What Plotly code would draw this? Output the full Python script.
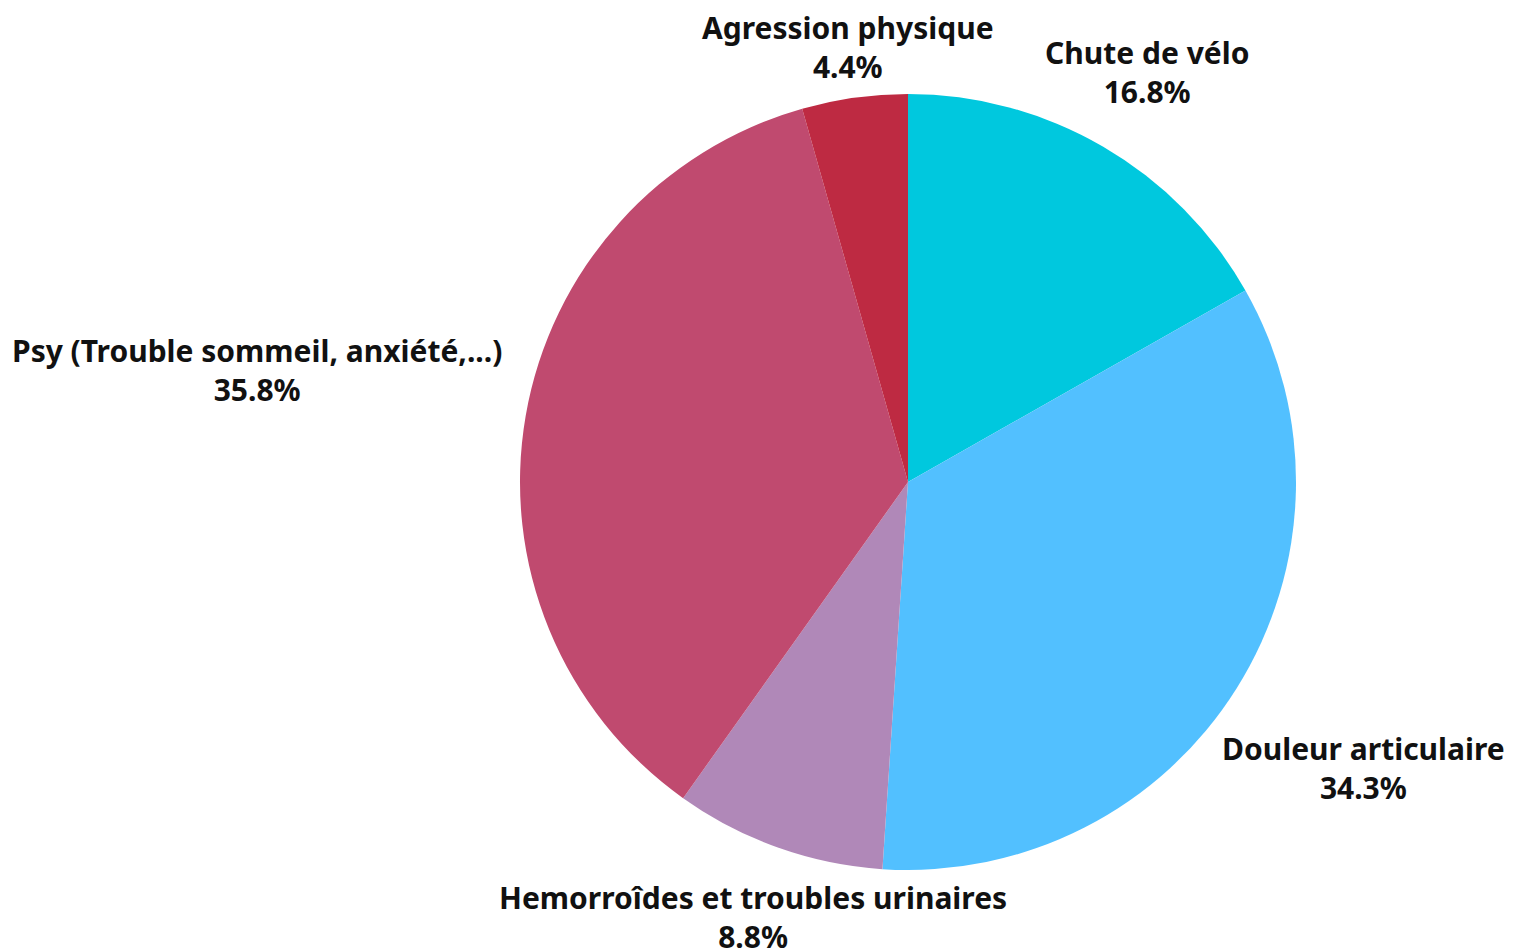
import math
import plotly.graph_objects as go

labels = ["Chute de vélo", "Douleur articulaire", "Hemorroîdes et troubles urinaires",
          "Psy (Trouble sommeil, anxiété,...)", "Agression physique"]
values = [16.8, 34.3, 8.8, 35.8, 4.4]
colors = ["#00C8DE", "#52C0FF", "#B088B8", "#C04A6F", "#BE2A42"]

W, H = 1518, 948
CX, CY, R = 900, 474, 388          # pie centre / radius in figure pixels
FONT_SIZE = 30
CHAR_W = 0.51 * FONT_SIZE          # rough average glyph width
HALF_H = 37                        # half height of a two-line label
GAP = 10                           # clearance between pie rim and label box

fig = go.Figure(go.Pie(
    labels=labels,
    values=values,
    sort=False,
    direction="clockwise",
    rotation=0,
    marker=dict(colors=colors, line=dict(width=0)),
    textinfo="none",
    hoverinfo="label+percent",
    showlegend=False,
    automargin=False,
    domain=dict(x=[(CX - R) / W, (CX + R) / W],
                y=[(H - CY - R) / H, (H - CY + R) / H]),
))


def box_dist(cx, cy, hw, hh):
    dx = max(abs(cx) - hw, 0.0)
    dy = max(abs(cy) - hh, 0.0)
    return math.hypot(dx, dy)


total = sum(values)
cum = 0.0
for lab, val in zip(labels, values):
    frac = (cum + val / 2) / total
    cum += val
    theta = 2 * math.pi * frac
    ux, uy = math.sin(theta), -math.cos(theta)
    hw = len(lab) * CHAR_W / 2
    lo, hi = 0.0, 3000.0
    for _ in range(60):
        mid = (lo + hi) / 2
        if box_dist(mid * ux, mid * uy, hw, HALF_H) >= R + GAP:
            hi = mid
        else:
            lo = mid
    px, py = CX + hi * ux, CY + hi * uy
    fig.add_annotation(
        x=px / W, y=1 - py / H, xref="paper", yref="paper",
        text=f"<b>{lab}</b><br><b>{val:.1f}%</b>",
        showarrow=False, xanchor="center", yanchor="middle", align="center",
        font=dict(family="Noto Sans, Open Sans, sans-serif", size=FONT_SIZE, color="#111111"),
    )

fig.update_layout(
    width=W, height=H,
    margin=dict(l=0, r=0, t=0, b=0),
    paper_bgcolor="white", plot_bgcolor="white",
)
fig.write_html("out.html")
